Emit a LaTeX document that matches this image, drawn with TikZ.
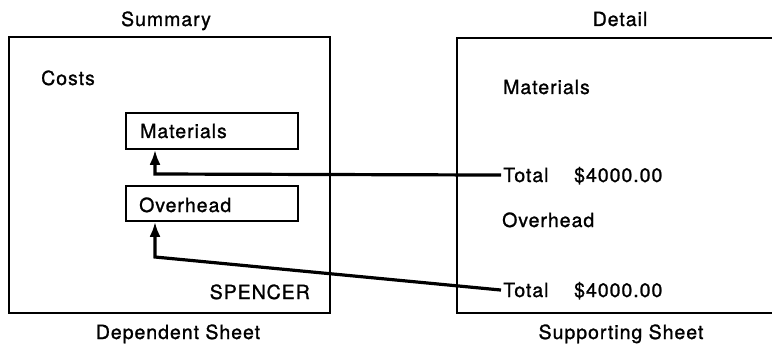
\documentclass[tikz,border=0pt]{standalone}
\usepackage{fontspec}
\setmainfont{TeX Gyre Heros}[LetterSpace=5,FakeBold=1.2]
\usetikzlibrary{arrows.meta}
\begin{document}
\begin{tikzpicture}[x=1pt,y=-1pt,
  lbl/.style={inner sep=0pt,font=\fontsize{19.5}{22}\selectfont},
  field/.style={draw,line width=1.6pt,inner sep=0pt},
  sheet/.style={line width=1.8pt},
  conn/.style={line width=3.2pt,-{Latex[length=15pt,width=11pt]}}]
\useasboundingbox (0,0) rectangle (772,345);
% sheets
\node[draw,sheet,inner sep=0pt,minimum width=321pt,minimum height=276pt] (dep) at (169.5,175) {};
\draw[sheet] (780,38) -- (457,38) -- (457,313) -- (780,313);
\coordinate (sup) at (457,175);
% titles
\node[lbl,anchor=base] (summary) at (166,26) {Summary};
\node[lbl,anchor=base] (detail) at (620,26) {Detail};
\node[lbl,anchor=base] (deplbl) at (178,339) {Dependent Sheet};
\node[lbl,anchor=base] (suplbl) at (621,339) {Supporting Sheet};
% left sheet contents
\node[lbl,anchor=base west] (costs) at (41,85) {Costs};
\node[field,minimum width=172pt,minimum height=36pt] (mat) at (212,131) {};
\node[lbl,anchor=base west] (mattxt) at (140,138) {Materials};
\node[field,minimum width=172pt,minimum height=35pt] (ovh) at (212,203.5) {};
\node[lbl,anchor=base west] (ovhtxt) at (139,212) {Overhead};
\node[lbl,anchor=base east] (spencer) at (310,299) {SPENCER};
% right sheet contents
\node[lbl,anchor=base west] (rmat) at (503,94) {Materials};
\node[lbl,anchor=base west,inner xsep=2pt] (tot1) at (501,182) {Total};
\node[lbl,anchor=base west] (val1) at (574,182) {\$4000.00};
\node[lbl,anchor=base west] (rovh) at (502,227) {Overhead};
\node[lbl,anchor=base west,inner xsep=2pt] (tot2) at (501,297) {Total};
\node[lbl,anchor=base west] (val2) at (574,297) {\$4000.00};
% connectors
\coordinate (k1) at (155,174);
\coordinate (k2) at (155,257);
\draw[conn] (tot1.west) -- (k1) -- (k1 |- mat.south);
\draw[conn] (tot2.west) -- (k2) -- (k2 |- ovh.south);
\end{tikzpicture}
\end{document}
